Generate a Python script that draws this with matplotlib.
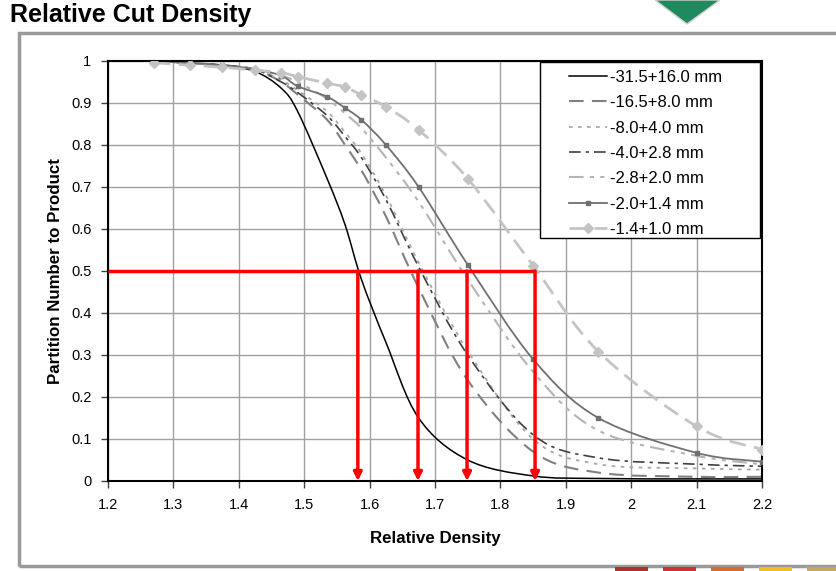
import matplotlib
matplotlib.use("Agg")
import matplotlib.pyplot as plt
import numpy as np
from matplotlib.patches import Rectangle, Polygon, PathPatch
from matplotlib.path import Path
from matplotlib.lines import Line2D

plt.rcParams['font.family'] = ['Liberation Sans', 'DejaVu Sans']

# relative density points (fraction midpoints)
density = [1.27, 1.325, 1.375, 1.425, 1.465, 1.49, 1.535, 1.5625, 1.5875,
           1.625, 1.675, 1.75, 1.85, 1.95, 2.1, 2.2]

p_31_16 = [1.0, 0.995, 0.99, 0.975, 0.935, 0.88, 0.72, 0.61, 0.48,
           0.33, 0.15, 0.05, 0.012, 0.006, 0.005, 0.005]
p_16_8 = [1.0, 0.995, 0.99, 0.98, 0.95, 0.92, 0.86, 0.80, 0.74,
          0.63, 0.46, 0.24, 0.07, 0.02, 0.01, 0.01]
p_8_4 = [1.0, 0.995, 0.99, 0.98, 0.955, 0.93, 0.88, 0.83, 0.78,
         0.68, 0.52, 0.31, 0.10, 0.04, 0.03, 0.027]
p_4_28 = [1.0, 0.995, 0.99, 0.98, 0.95, 0.925, 0.87, 0.82, 0.77,
          0.67, 0.51, 0.30, 0.11, 0.055, 0.04, 0.035]
p_28_2 = [1.0, 0.995, 0.99, 0.98, 0.965, 0.95, 0.91, 0.875, 0.84,
          0.77, 0.665, 0.48, 0.26, 0.12, 0.06, 0.04]
p_2_14 = [1.0, 0.995, 0.99, 0.98, 0.965, 0.94, 0.915, 0.888, 0.86,
          0.80, 0.70, 0.515, 0.29, 0.15, 0.067, 0.046]
p_14_1 = [0.996, 0.99, 0.985, 0.978, 0.972, 0.963, 0.947, 0.938, 0.919,
          0.891, 0.836, 0.72, 0.513, 0.308, 0.13, 0.075]

labels = ['-31.5+16.0 mm', '-16.5+8.0 mm', '-8.0+4.0 mm', '-4.0+2.8 mm',
          '-2.8+2.0 mm', '-2.0+1.4 mm', '-1.4+1.0 mm']

# cut densities read at partition number 0.5
cut_points = [1.582, 1.674, 1.749, 1.853]


def smooth_path(x, y):
    # Excel-style smoothed line: cubic bezier through every point
    pts = np.column_stack([x, y])
    n = len(pts)
    verts = [pts[0]]
    codes = [Path.MOVETO]
    for i in range(n - 1):
        p0 = pts[max(i - 1, 0)]
        p1 = pts[i]
        p2 = pts[i + 1]
        p3 = pts[min(i + 2, n - 1)]
        verts += [p1 + (p2 - p0) / 6, p2 - (p3 - p1) / 6, p2]
        codes += [Path.CURVE4] * 3
    return Path(verts, codes)


fig = plt.figure(figsize=(8.36, 5.71), dpi=100)

# outer frame and decorations
fig.patches.append(Rectangle((19 / 836, 5 / 571), 1.0, 533 / 571, transform=fig.transFigure,
                             fill=False, edgecolor='#9a9a9a', linewidth=2.5))
fig.patches.append(Polygon([(655 / 836, 1.0), (720 / 836, 1.0), (687 / 836, 1 - 24 / 571)],
                           closed=True, transform=fig.transFigure,
                           facecolor='#1f8a5e', edgecolor='#d0d0d0'))
for x0, c in zip([615, 663, 711, 759, 807], ['#b0302a', '#d03030', '#d86a2a', '#f0c020', '#c8a860']):
    fig.patches.append(Rectangle((x0 / 836, 0), 33 / 836, 4 / 571, transform=fig.transFigure,
                                 facecolor=c, edgecolor='none'))

fig.text(10 / 836, 1 - 15 / 571, 'Relative Cut Density', fontsize=18, fontweight='bold',
         va='center', ha='left')

ax = fig.add_axes([108 / 836, 1 - 481 / 571, 654 / 836, 420 / 571])

series = [p_31_16, p_16_8, p_8_4, p_4_28, p_28_2, p_2_14, p_14_1]
styles = [
    dict(color='black', lw=1.1, ls='-'),
    dict(color='#808080', lw=1.5, ls=(0, (7, 4))),
    dict(color='#a8a8a8', lw=1.3, ls=(0, (2, 3))),
    dict(color='#404040', lw=1.2, ls=(0, (7, 3, 2, 3))),
    dict(color='#b4b4b4', lw=1.5, ls=(0, (7, 3, 2, 3, 2, 3))),
    dict(color='#707070', lw=1.3, ls='-'),
    dict(color='#c4c4c4', lw=2.0, ls=(0, (6, 3))),
]
markers = [None, None, None, None, None, ('s', 3), ('D', 5)]

handles = []
for vals, st, mk, lab in zip(series, styles, markers, labels):
    ax.add_patch(PathPatch(smooth_path(density, vals), fill=False, edgecolor=st['color'],
                           lw=st['lw'], ls=st['ls'], zorder=2))
    if mk:
        ax.plot(density, vals, ls='none', marker=mk[0], ms=mk[1], color=st['color'], zorder=3)
    handles.append(Line2D([], [], color=st['color'], lw=st['lw'], ls=st['ls'],
                          marker=mk[0] if mk else None, ms=mk[1] if mk else 0, label=lab))

# red cut lines
ax.plot([1.2, max(cut_points)], [0.5, 0.5], color='red', lw=2.5, solid_capstyle='butt', zorder=4)
for cp in cut_points:
    ax.annotate('', xy=(cp, 0.0), xytext=(cp, 0.5),
                arrowprops=dict(arrowstyle='-|>', color='red', lw=2.5,
                                mutation_scale=12, shrinkA=0, shrinkB=0), zorder=4)

ax.set_xlim(1.2, 2.2)
ax.set_ylim(0, 1)
xt = [1.2, 1.3, 1.4, 1.5, 1.6, 1.7, 1.8, 1.9, 2.0, 2.1, 2.2]
ax.set_xticks(xt)
ax.set_xticklabels(['1.2', '1.3', '1.4', '1.5', '1.6', '1.7', '1.8', '1.9', '2', '2.1', '2.2'])
yt = [0, 0.1, 0.2, 0.3, 0.4, 0.5, 0.6, 0.7, 0.8, 0.9, 1]
ax.set_yticks(yt)
ax.set_yticklabels(['0', '0.1', '0.2', '0.3', '0.4', '0.5', '0.6', '0.7', '0.8', '0.9', '1'])
ax.tick_params(direction='out', length=5, width=1, color='#404040', labelsize=10.5, pad=7)
ax.grid(True, color='#a0a0a0', lw=1)
ax.set_axisbelow(True)
for s in ax.spines.values():
    s.set_linewidth(1.5)
    s.set_color('black')

ax.set_xlabel('Relative Density', fontsize=12.2, fontweight='bold', labelpad=14)
ax.set_ylabel('Partition Number to Product', fontsize=12.2, fontweight='bold', labelpad=6)

# legend box (wide left padding like the original)
ax.add_patch(Rectangle(((540 - 108) / 654, (481 - 238) / 420), (760 - 540) / 654,
                       (238 - 62) / 420, transform=ax.transAxes, facecolor='white',
                       edgecolor='black', lw=1.0, zorder=4.5))
leg = ax.legend(handles=handles, loc='upper left',
                bbox_to_anchor=((569 - 108) / 654, (481 - 70) / 420), fontsize=12,
                frameon=False, handlelength=2.3, labelspacing=0.62, borderpad=0,
                borderaxespad=0, handletextpad=0.15)
leg.set_zorder(5)

fig.savefig('out.png', dpi=100)
